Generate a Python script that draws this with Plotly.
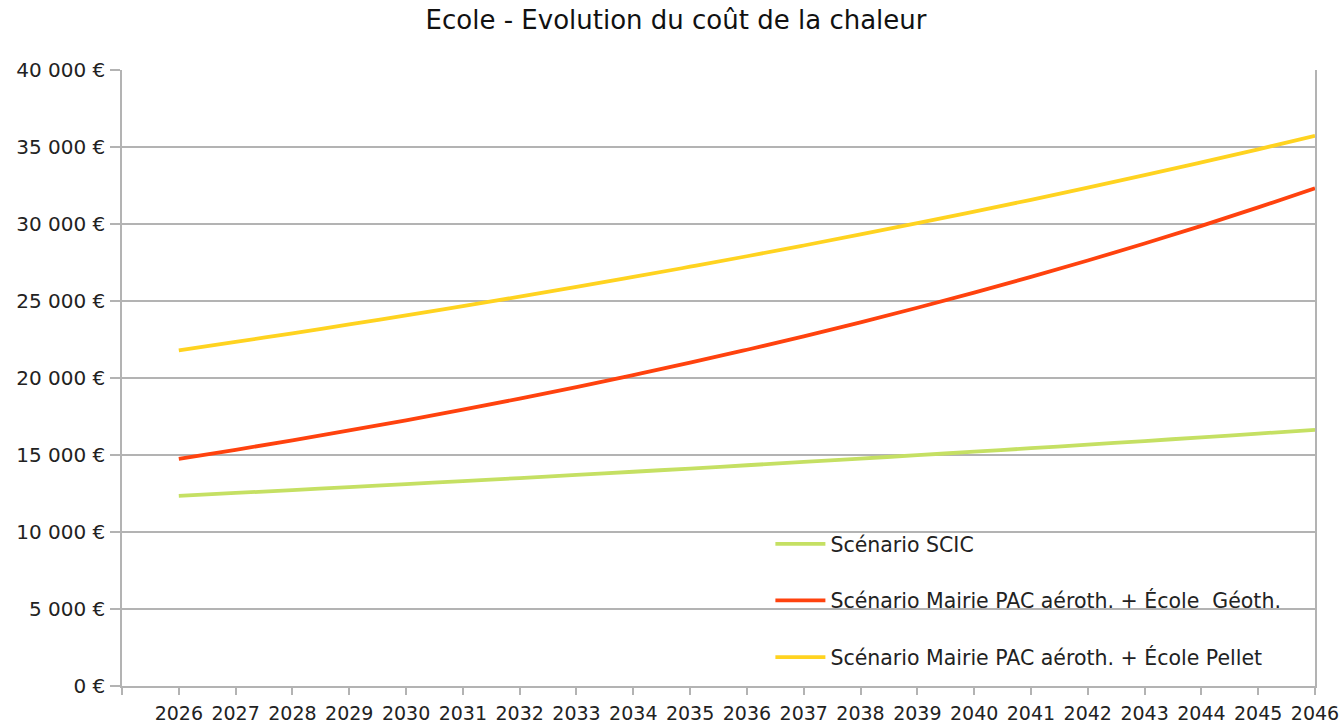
import plotly.graph_objects as go

years = list(range(2026, 2047))
scic = [12350, 12535, 12723, 12914, 13108, 13305, 13504, 13707, 13912, 14121, 14333,
        14548, 14766, 14988, 15213, 15441, 15672, 15907, 16146, 16388, 16634]
geoth = [14750, 15340, 15954, 16592, 17255, 17946, 18663, 19410, 20186, 20994, 21834,
         22707, 23615, 24560, 25542, 26564, 27627, 28732, 29881, 31076, 32319]
pellet = [21800, 22345, 22904, 23476, 24063, 24665, 25281, 25913, 26561, 27225, 27906,
          28604, 29319, 30052, 30803, 31573, 32362, 33171, 34001, 34851, 35722]
names = ["Scénario SCIC",
         "Scénario Mairie PAC aéroth. + École  Géoth.",
         "Scénario Mairie PAC aéroth. + École Pellet"]
colors = ["#c5e063", "#ff420e", "#ffd320"]
ytickvals = list(range(0, 40001, 5000))
yticktext = ["0 €"] + [f"{v // 1000} 000 €" for v in ytickvals[1:]]

fig = go.Figure()
for i, (name, vals) in enumerate(zip(names, [scic, geoth, pellet])):
    fig.add_trace(go.Scatter(x=years, y=vals, name=name, mode="lines",
                             line=dict(color=colors[i], width=3.8, shape="spline"),
                             legendgroup=f"g{i}"))

fig.update_layout(
    width=1344, height=725,
    paper_bgcolor="white", plot_bgcolor="white",
    margin=dict(l=122, r=29, t=70, b=39, autoexpand=False),
    font=dict(family="DejaVu Sans, sans-serif", color="#222222"),
    title=dict(text="Ecole - Evolution du coût de la chaleur", x=0.503, xanchor="center",
               y=0.972, yanchor="middle", font=dict(size=26, color="#111111"),
               automargin=False),
    showlegend=True,
    legend=dict(x=0.5435, y=0.263, xanchor="left", yanchor="top",
                bgcolor="rgba(0,0,0,0)", font=dict(size=20.5, color="#222222"),
                tracegroupgap=27, traceorder="grouped", itemwidth=50),
    xaxis=dict(range=[2025, 2046], tickmode="array",
               tickvals=list(range(2025, 2047)),
               ticktext=[""] + [str(y) for y in years],
               ticks="outside", ticklen=7, tickcolor="#b3b3b3", tickwidth=1.5,
               showgrid=False, showline=True, linecolor="#b3b3b3", linewidth=1.5,
               tickfont=dict(size=19, color="#222222"), zeroline=False,
               ticklabelstandoff=2, automargin=False),
    yaxis=dict(range=[0, 40000], tickmode="array", tickvals=ytickvals, ticktext=yticktext,
               ticks="outside", ticklen=10, tickcolor="#b3b3b3", tickwidth=1.5,
               showgrid=True, gridcolor="#b3b3b3", gridwidth=1.5,
               showline=True, linecolor="#b3b3b3", linewidth=1.5, mirror=True,
               tickfont=dict(size=20, color="#222222"), zeroline=False,
               ticklabelstandoff=1, automargin=False),
)

fig.write_html("out.html", config={"displayModeBar": False},
               post_script="document.body.style.margin='0px';")
